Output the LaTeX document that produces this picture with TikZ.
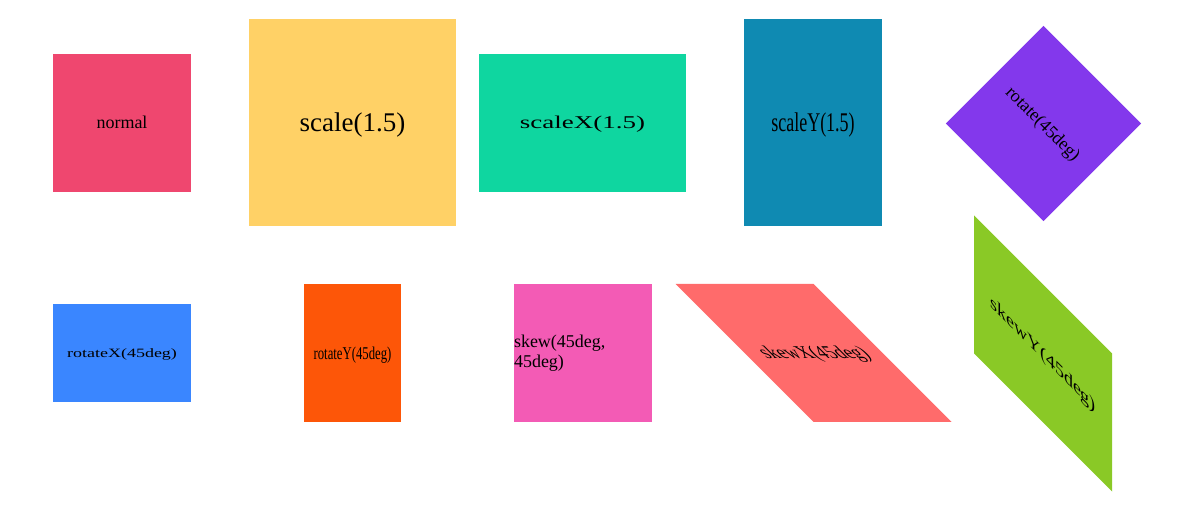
\documentclass[tikz,border=0pt]{standalone}
\usepackage{fontspec}
\setmainfont{Liberation Serif}
\definecolor{cnormal}{HTML}{EF476F}
\definecolor{cscale}{HTML}{FFD166}
\definecolor{cscaleX}{HTML}{0FD6A0}
\definecolor{cscaleY}{HTML}{0F8AB2}
\definecolor{crotate}{HTML}{8338EC}
\definecolor{crotateX}{HTML}{3A86FF}
\definecolor{crotateY}{HTML}{FD5608}
\definecolor{cskew}{HTML}{F35BB5}
\definecolor{cskewX}{HTML}{FF6B6B}
\definecolor{cskewY}{HTML}{8AC926}
\begin{document}
\begin{tikzpicture}[x=1pt, y=-1pt, font=\fontsize{18}{20}\selectfont,
	box/.style={fill=#1, minimum size=138pt, inner sep=0pt, text=black,
		text height=15pt, text depth=3pt}]
	\useasboundingbox (0,0) rectangle (1200,518);
	% first row
	\node[box=cnormal] (normal) at (122,123) {normal};
	\node[box=cscale, scale=1.5] (scale) at (352.5,122.5) {scale(1.5)};
	\node[box=cscaleX, xscale=1.5] (scaleX) at (582.5,123) {scaleX(1.5)};
	\node[box=cscaleY, yscale=1.5] (scaleY) at (813,122.5) {scaleY(1.5)};
	\node[box=crotate, rotate=-45] (rotate) at (1043.5,123.5) {rotate(45deg)};
	% second row
	\node[box=crotateX, yscale=.707] (rotateX) at (122,353) {rotateX(45deg)};
	\node[box=crotateY, xscale=.707] (rotateY) at (352.5,353.5) {rotateY(45deg)};
	\node[box=cskew, text width=138pt, align=left, text height=13pt, text depth=24pt] (skew) at (583,353.5) {skew(45deg,\\45deg)};
	\node[box=cskewX, xslant=-1] (skewX) at (813.5,353) {skewX(45deg)};
	\node[box=cskewY, yslant=-1] (skewY) at (1043,353.5) {skewY(45deg)};
\end{tikzpicture}
\end{document}
